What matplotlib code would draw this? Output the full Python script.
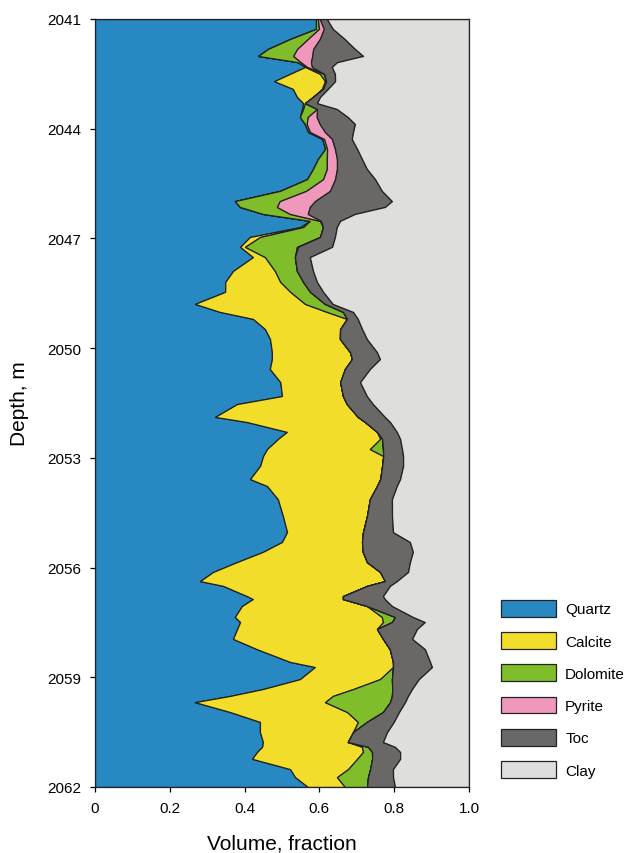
import numpy as np
import matplotlib
matplotlib.use('Agg')
from matplotlib import pyplot as plt
from matplotlib import ticker as mticker

# Depth samples [m] and volume fraction of each mineral
depth = [2041.00, 2041.27, 2041.55, 2041.82, 2042.01, 2042.18, 2042.31, 2042.50, 2042.70, 2042.91,
         2043.13, 2043.30, 2043.46, 2043.68, 2043.87, 2044.09, 2044.28, 2044.55, 2044.83, 2045.10,
         2045.38, 2045.70, 2045.98, 2046.14, 2046.33, 2046.52, 2046.69, 2046.96, 2047.23, 2047.51,
         2047.89, 2048.19, 2048.46, 2048.79, 2049.01, 2049.20, 2049.48, 2049.75, 2050.11, 2050.30,
         2050.57, 2050.93, 2051.31, 2051.53, 2051.88, 2052.02, 2052.29, 2052.48, 2052.76, 2052.95,
         2053.22, 2053.58, 2053.77, 2054.13, 2054.59, 2055.03, 2055.30, 2055.57, 2055.85, 2056.12,
         2056.37, 2056.50, 2056.78, 2056.86, 2057.05, 2057.35, 2057.49, 2057.68, 2057.95, 2058.23,
         2058.58, 2058.72, 2059.05, 2059.32, 2059.51, 2059.68, 2059.95, 2060.22, 2060.50, 2060.77,
         2060.90, 2061.04, 2061.23, 2061.51, 2061.73, 2062.00]

quartz = [0.591, 0.591, 0.521, 0.463, 0.436, 0.543, 0.561, 0.521, 0.479, 0.529,
          0.540, 0.556, 0.553, 0.548, 0.561, 0.570, 0.607, 0.615, 0.596, 0.583,
          0.567, 0.495, 0.374, 0.388, 0.449, 0.575, 0.548, 0.414, 0.388, 0.422,
          0.369, 0.348, 0.348, 0.267, 0.334, 0.422, 0.455, 0.468, 0.473, 0.473,
          0.468, 0.495, 0.500, 0.380, 0.321, 0.406, 0.513, 0.489, 0.460, 0.449,
          0.441, 0.414, 0.460, 0.489, 0.503, 0.513, 0.500, 0.449, 0.380, 0.316,
          0.281, 0.342, 0.406, 0.422, 0.393, 0.374, 0.388, 0.380, 0.369, 0.433,
          0.521, 0.588, 0.548, 0.449, 0.361, 0.267, 0.361, 0.441, 0.441, 0.449,
          0.447, 0.433, 0.420, 0.521, 0.535, 0.570]

calcite = [0.000, 0.000, 0.000, 0.000, 0.000, 0.000, 0.000, 0.080, 0.136, 0.078,
           0.043, 0.005, 0.003, 0.000, 0.000, 0.000, 0.000, 0.000, 0.000, 0.000,
           0.000, 0.000, 0.000, 0.000, 0.000, 0.000, 0.008, 0.027, 0.013, 0.032,
           0.112, 0.147, 0.174, 0.294, 0.286, 0.251, 0.201, 0.187, 0.209, 0.214,
           0.201, 0.160, 0.163, 0.294, 0.382, 0.316, 0.241, 0.273, 0.275, 0.321,
           0.326, 0.348, 0.294, 0.246, 0.225, 0.203, 0.214, 0.267, 0.348, 0.447,
           0.495, 0.385, 0.257, 0.241, 0.334, 0.393, 0.382, 0.374, 0.401, 0.356,
           0.275, 0.209, 0.214, 0.241, 0.275, 0.348, 0.313, 0.262, 0.249, 0.227,
           0.267, 0.283, 0.281, 0.155, 0.112, 0.099]

dolomite = [0.005, 0.008, 0.048, 0.078, 0.094, 0.008, 0.005, 0.011, 0.003, 0.003,
            0.000, 0.000, 0.037, 0.021, 0.005, 0.005, 0.005, 0.005, 0.024, 0.037,
            0.043, 0.070, 0.120, 0.099, 0.072, 0.027, 0.053, 0.160, 0.139, 0.080,
            0.059, 0.061, 0.053, 0.053, 0.043, 0.000, 0.000, 0.000, 0.000, 0.000,
            0.000, 0.000, 0.000, 0.000, 0.000, 0.000, 0.000, 0.005, 0.035, 0.000,
            0.000, 0.000, 0.000, 0.000, 0.000, 0.000, 0.000, 0.000, 0.000, 0.000,
            0.000, 0.000, 0.000, 0.000, 0.000, 0.035, 0.024, 0.000, 0.000, 0.000,
            0.000, 0.000, 0.032, 0.104, 0.158, 0.174, 0.096, 0.024, 0.000, 0.000,
            0.016, 0.024, 0.040, 0.059, 0.083, 0.059]

pyrite = [0.005, 0.013, 0.032, 0.043, 0.051, 0.027, 0.013, 0.000, 0.000, 0.000,
          0.000, 0.000, 0.000, 0.024, 0.035, 0.040, 0.021, 0.021, 0.027, 0.027,
          0.032, 0.064, 0.094, 0.088, 0.048, 0.003, 0.000, 0.000, 0.003, 0.000,
          0.000, 0.000, 0.000, 0.000, 0.000, 0.000, 0.000, 0.000, 0.000, 0.000,
          0.000, 0.000, 0.000, 0.000, 0.000, 0.000, 0.000, 0.000, 0.000, 0.000,
          0.000, 0.000, 0.000, 0.000, 0.000, 0.000, 0.000, 0.000, 0.000, 0.000,
          0.000, 0.000, 0.000, 0.000, 0.000, 0.000, 0.000, 0.000, 0.000, 0.000,
          0.000, 0.000, 0.000, 0.000, 0.000, 0.000, 0.000, 0.000, 0.000, 0.000,
          0.000, 0.000, 0.000, 0.000, 0.000, 0.000]

toc = [0.019, 0.024, 0.067, 0.112, 0.136, 0.070, 0.053, 0.029, 0.024, 0.013,
       0.019, 0.032, 0.053, 0.083, 0.094, 0.075, 0.053, 0.059, 0.067, 0.080,
       0.107, 0.139, 0.206, 0.201, 0.126, 0.051, 0.037, 0.040, 0.091, 0.040,
       0.043, 0.037, 0.035, 0.021, 0.027, 0.029, 0.059, 0.072, 0.072, 0.075,
       0.067, 0.053, 0.064, 0.070, 0.072, 0.067, 0.053, 0.048, 0.051, 0.053,
       0.056, 0.053, 0.053, 0.059, 0.067, 0.080, 0.128, 0.134, 0.115, 0.075,
       0.032, 0.061, 0.107, 0.112, 0.067, 0.048, 0.088, 0.107, 0.078, 0.094,
       0.099, 0.104, 0.072, 0.053, 0.043, 0.040, 0.043, 0.072, 0.091, 0.094,
       0.072, 0.075, 0.075, 0.061, 0.067, 0.075]

clay = [0.380, 0.364, 0.332, 0.305, 0.283, 0.353, 0.366, 0.358, 0.358, 0.377,
        0.398, 0.406, 0.353, 0.324, 0.305, 0.310, 0.313, 0.299, 0.286, 0.273,
        0.251, 0.233, 0.206, 0.225, 0.305, 0.345, 0.353, 0.358, 0.366, 0.425,
        0.417, 0.406, 0.390, 0.364, 0.310, 0.297, 0.286, 0.273, 0.246, 0.238,
        0.265, 0.291, 0.273, 0.257, 0.225, 0.211, 0.193, 0.184, 0.179, 0.176,
        0.176, 0.184, 0.193, 0.206, 0.206, 0.203, 0.158, 0.150, 0.158, 0.163,
        0.193, 0.211, 0.230, 0.225, 0.206, 0.150, 0.118, 0.139, 0.152, 0.118,
        0.104, 0.099, 0.134, 0.152, 0.163, 0.171, 0.187, 0.201, 0.219, 0.230,
        0.198, 0.184, 0.184, 0.203, 0.203, 0.198]

minerals = ['Quartz', 'Calcite', 'Dolomite', 'Pyrite', 'Toc', 'Clay']
colours  = ['#2788c2', '#f1dd2a', '#80bd2a', '#ef98bb', '#6a6866', '#dededc']

depth_ticks = [2041, 2044, 2047, 2050, 2053, 2056, 2059, 2062]
frac_ticks  = [0, 0.2, 0.4, 0.6, 0.8, 1.0]
frac_labels = ['0', '0.2', '0.4', '0.6', '0.8', '1.0']

def main():

    plt.rcParams['font.family'] = ['Liberation Sans', 'DejaVu Sans']

    fig = plt.figure(figsize=(6.28, 8.54), dpi=100)
    ax  = fig.add_axes([95/628, 1 - 788/854, 374/628, 768/854])

    # Stack the mineral fractions from left to right (rows closed to 1)
    layers = np.array([quartz, calcite, dolomite, pyrite, toc, clay])
    layers = layers / layers.sum(axis=0)
    right  = np.cumsum(layers, axis=0)
    left   = np.zeros(len(depth))
    for k in range(len(minerals)):
        ax.fill_betweenx(depth, left, right[k], facecolor=colours[k],
                         edgecolor='#222222', linewidth=0.9, label=minerals[k])
        left = right[k]

    ax.set_xlim(0, 1)
    ax.set_ylim(2062, 2041)
    ax.set_xticks(frac_ticks)
    ax.set_xticklabels(frac_labels)
    ax.set_yticks(depth_ticks)
    ax.yaxis.set_minor_locator(mticker.NullLocator())
    ax.tick_params(direction='out', length=3.6, width=0.9, labelsize=11, pad=6.5)
    for sp in ax.spines.values():
        sp.set_linewidth(0.9)
        sp.set_color('#222222')

    ax.set_xlabel('Volume, fraction', fontsize=15, labelpad=13)
    ax.set_ylabel('Depth, m', fontsize=15, labelpad=13)

    ax.legend(loc='upper left', bbox_to_anchor=(501/628, 1 - 601/854),
              bbox_transform=fig.transFigure, frameon=False, fontsize=11,
              handlelength=3.6, handleheight=1.3, handletextpad=0.6,
              labelspacing=1.02, borderpad=0, borderaxespad=0)

    fig.savefig('out.png', dpi=100)
    plt.close(fig)

if __name__ == '__main__': main()
